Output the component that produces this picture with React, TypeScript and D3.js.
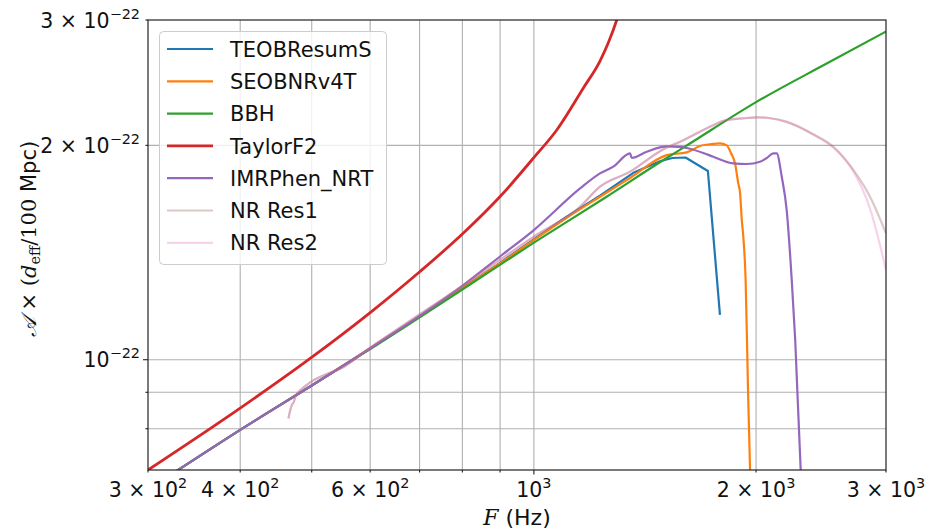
import React from "react";
import * as d3 from "d3";

// ---------- data (frequency in Hz, amplitude in units of 1e-22) ----------
const F_TEOB = [300, 400, 500, 600, 700, 800, 900, 1000, 1100, 1229, 1364, 1482, 1540, 1605, 1721, 1787];
const A_TEOB = [0.657, 0.797, 0.92, 1.037, 1.15, 1.26, 1.368, 1.476, 1.58, 1.70, 1.83, 1.90, 1.92, 1.923, 1.841, 1.156];

const F_SEOB = [300, 400, 500, 600, 700, 800, 900, 1000, 1100, 1229, 1350, 1514, 1611, 1679, 1750, 1787, 1825, 1850, 1873, 1892, 1903, 1913, 1922, 1936, 1950, 1963, 1975];
const A_SEOB = [0.657, 0.797, 0.92, 1.037, 1.15, 1.26, 1.366, 1.473, 1.575, 1.694, 1.80, 1.938, 1.955, 1.996, 2.01, 2.013, 2.0, 1.95, 1.887, 1.769, 1.713, 1.571, 1.489, 1.294, 0.92, 0.7, 0.6];

const F_BBH = [300, 400, 500, 600, 800, 1000, 1250, 1500, 1600, 2000, 2500, 3000];
const A_BBH = [0.657, 0.797, 0.92, 1.035, 1.255, 1.46, 1.69, 1.909, 1.99, 2.30, 2.61, 2.89];

const F_TF2 = [300, 400, 495, 606, 701, 802, 900, 1001, 1074, 1167, 1229, 1261, 1295, 1320];
const A_TF2 = [0.70, 0.855, 1.0, 1.174, 1.33, 1.505, 1.695, 1.925, 2.102, 2.408, 2.627, 2.785, 3.0, 3.2];

const F_IMR = [300, 400, 500, 600, 700, 800, 905, 1000, 1155, 1229, 1281, 1350, 1357, 1422, 1514, 1578, 1611, 1700, 1750, 1863, 1943, 2025, 2068, 2111, 2133, 2167, 2201, 2235, 2260, 2299, 2320];
const A_IMR = [0.657, 0.797, 0.92, 1.037, 1.152, 1.27, 1.403, 1.521, 1.74, 1.827, 1.867, 1.949, 1.92, 1.959, 1.993, 1.99, 1.983, 1.95, 1.928, 1.887, 1.883, 1.897, 1.92, 1.949, 1.949, 1.807, 1.62, 1.30, 1.066, 0.7, 0.6];

const F_NR = [465, 467, 470, 473, 475, 478, 488, 503, 524, 546, 600, 700, 800, 900, 1000, 1155, 1229, 1350, 1498, 1578, 1750, 1806, 1943, 2004, 2080, 2201, 2392, 2546, 2709, 2854, 3000];
const A_NR1 = [0.827, 0.845, 0.864, 0.873, 0.887, 0.897, 0.915, 0.936, 0.955, 0.97, 1.04, 1.158, 1.27, 1.382, 1.489, 1.64, 1.75, 1.837, 1.975, 2.024, 2.135, 2.165, 2.185, 2.19, 2.185, 2.158, 2.072, 1.991, 1.847, 1.694, 1.505];
const A_NR2 = [0.827, 0.845, 0.864, 0.873, 0.887, 0.897, 0.915, 0.936, 0.955, 0.97, 1.04, 1.158, 1.27, 1.382, 1.489, 1.64, 1.75, 1.837, 1.975, 2.024, 2.135, 2.165, 2.185, 2.19, 2.185, 2.158, 2.072, 1.985, 1.84, 1.63, 1.337];

const SERIES_NAMES = ["TEOBResumS", "SEOBNRv4T", "BBH", "TaylorF2", "IMRPhen_NRT", "NR Res1", "NR Res2"];
const SERIES_COLORS = ["#1f77b4", "#ff7f0e", "#2ca02c", "#d62728", "#9467bd", "#8c564b", "#e377c2"];

const X_GRID = [400, 500, 600, 700, 800, 900, 1000, 2000];
const Y_GRID = [0.8, 0.9, 1, 2];
const X_TICKS = [300, 400, 500, 600, 700, 800, 900, 1000, 2000, 3000];
const X_LABEL_VALUES = [300, 400, 600, 1000, 2000, 3000];
const X_LABEL_MANT = ["3", "4", "6", "", "2", "3"];
const X_LABEL_EXP = ["2", "2", "2", "3", "3", "3"];
const Y_TICKS = [0.8, 0.9, 1, 2, 3];
const Y_LABEL_VALUES = [1, 2, 3];
const Y_LABEL_MANT = ["", "2", "3"];
const Y_LABEL_EXP = "\u221222";

const FONT = "DejaVu Sans";

export default function App() {
  const L = 148, R = 886, T = 20, B = 470;
  const x = d3.scaleLog().domain([300, 3000]).range([L, R]);
  const y = d3.scaleLog().domain([0.7, 3]).range([B, T]);

  const data = [
    [F_TEOB, A_TEOB],
    [F_SEOB, A_SEOB],
    [F_BBH, A_BBH],
    [F_TF2, A_TF2],
    [F_IMR, A_IMR],
    [F_NR, A_NR1],
    [F_NR, A_NR2],
  ];
  const series = data.map((d, i) => ({
    name: SERIES_NAMES[i],
    color: SERIES_COLORS[i],
    pts: d[0].map((f, j) => [f, d[1][j]] as [number, number]),
  }));

  const lineSmooth = d3.line<[number, number]>().x(d => x(d[0])).y(d => y(d[1])).curve(d3.curveMonotoneX);
  const lineLin = d3.line<[number, number]>().x(d => x(d[0])).y(d => y(d[1]));

  const widths = [2.2, 2.2, 2.2, 2.8, 2.2, 2.2, 2.2];
  const opac = [1, 1, 1, 1, 1, 0.32, 0.32];

  const fs = 20.5;
  const sup = 14.4;

  return (
    <svg width={927} height={529} style={{ position: "absolute", left: 0, top: 0, background: "#fff" }} fontFamily={FONT}>
      <defs>
        <clipPath id="plotclip">
          <rect x={L} y={T} width={R - L} height={B - T} />
        </clipPath>
      </defs>
      <rect x={0} y={0} width={927} height={529} fill="#fff" />
      {/* grid */}
      <g stroke="#b0b0b0" strokeWidth={1.1}>
        {X_GRID.map(v => <line key={"gx" + v} x1={x(v)} x2={x(v)} y1={T} y2={B} />)}
        {Y_GRID.map(v => <line key={"gy" + v} x1={L} x2={R} y1={y(v)} y2={y(v)} />)}
      </g>
      {/* series */}
      <g clipPath="url(#plotclip)" fill="none" strokeLinejoin="round" strokeLinecap="butt">
        {series.map((s, i) => (
          <path key={s.name} d={(i === 0 ? lineLin : lineSmooth)(s.pts) || ""} stroke={s.color} strokeWidth={widths[i]} strokeOpacity={opac[i]} />
        ))}
      </g>
      {/* spines */}
      <rect x={L} y={T} width={R - L} height={B - T} fill="none" stroke="#222" strokeWidth={1.2} />
      {/* ticks */}
      <g stroke="#222" strokeWidth={1.1}>
        {X_TICKS.map(v => <line key={"tx" + v} x1={x(v)} x2={x(v)} y1={B} y2={B + (v === 1000 ? 4.5 : 2.6)} />)}
        {Y_TICKS.map(v => <line key={"ty" + v} x1={L} x2={L - (v === 1 ? 5 : 2.6)} y1={y(v)} y2={y(v)} />)}
      </g>
      {/* x tick labels */}
      <g fontSize={fs} fill="#111" textAnchor="middle">
        {X_LABEL_VALUES.map((v, i) => (
          <text key={"lx" + v} x={x(v)} y={497}>
            {X_LABEL_MANT[i] ? X_LABEL_MANT[i] + " \u00d7 " : ""}10
            <tspan fontSize={sup} dy={-8.7}>{X_LABEL_EXP[i]}</tspan>
          </text>
        ))}
      </g>
      {/* y tick labels */}
      <g fontSize={fs} fill="#111" textAnchor="end">
        {Y_LABEL_VALUES.map((v, i) => (
          <text key={"ly" + v} x={140} y={y(v) + 7.6}>
            {Y_LABEL_MANT[i] ? Y_LABEL_MANT[i] + " \u00d7 " : ""}10
            <tspan fontSize={sup} dy={-9}>{Y_LABEL_EXP}</tspan>
          </text>
        ))}
      </g>
      {/* axis labels */}
      <text x={(L + R) / 2} y={525} textAnchor="middle" fontSize={22} fill="#111">
        <tspan fontFamily="DejaVu Serif" fontStyle="italic">F</tspan>
        <tspan> (Hz)</tspan>
      </text>
      <text transform={`translate(36,${(T + B) / 2 - 6}) rotate(-90)`} textAnchor="middle" fontSize={21} fill="#111">
        <tspan fontFamily="DejaVu Serif" fontStyle="italic">{"\uD835\uDC9C"}</tspan>
        <tspan>{" \u00d7 "}</tspan>
        <tspan fontFamily="DejaVu Serif">(</tspan>
        <tspan fontFamily="DejaVu Serif" fontStyle="italic">d</tspan>
        <tspan fontFamily="DejaVu Serif" fontSize={14.4} dy={4}>eff</tspan>
        <tspan fontFamily="DejaVu Serif" dy={-4}>/100</tspan>
        <tspan> Mpc)</tspan>
      </text>
      {/* legend */}
      <g>
        <rect x={159.5} y={31.5} width={227} height={233} rx={4} ry={4} fill="#fff" fillOpacity={0.8} stroke="#cccccc" strokeWidth={1} />
        {series.map((s, i) => {
          const cy = 49 + i * 32.3;
          return (
            <g key={"lg" + s.name}>
              <line x1={167} x2={213} y1={cy} y2={cy} stroke={s.color} strokeWidth={widths[i]} strokeOpacity={opac[i]} />
              <text x={230} y={cy + 7.6} fontSize={21} fill="#111">{s.name}</text>
            </g>
          );
        })}
      </g>
    </svg>
  );
}
